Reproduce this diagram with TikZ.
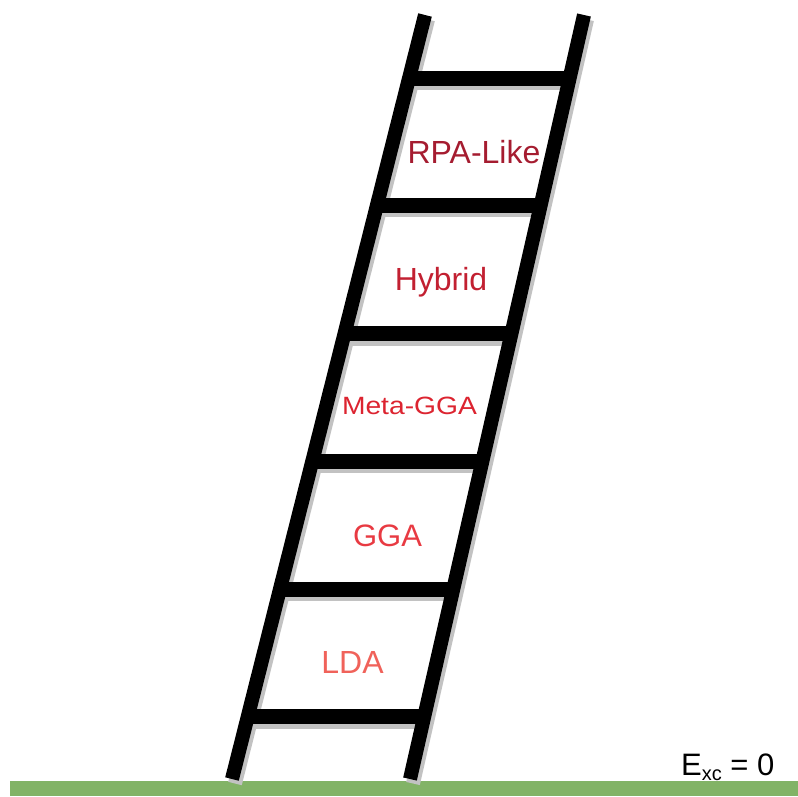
\documentclass[tikz,border=0pt]{standalone}
\usepackage{fontspec}
\setmainfont{Liberation Sans}
\usetikzlibrary{calc}
\definecolor{groundgreen}{HTML}{82B366}
\definecolor{railshade}{HTML}{C2C2C2}
\definecolor{lvlfive}{HTML}{A51C30}
\definecolor{lvlfour}{HTML}{C22031}
\definecolor{lvlthree}{HTML}{DC2430}
\definecolor{lvltwo}{HTML}{E83A42}
\definecolor{lvlone}{HTML}{F0625A}
\begin{document}
\begin{tikzpicture}[x=1pt,y=-1pt,
  rail/.style={line width=14pt},
  rungbar/.style={line width=15pt},
  lvl/.style={anchor=base, inner sep=0pt, font=\fontsize{32}{38}\selectfont}]
\useasboundingbox (0,0) rectangle (798,796);

% ground
\fill[groundgreen] (10,781) rectangle (798,796);

% rail end points
\coordinate (lt) at (425,15);
\coordinate (lb) at (232,779);
\coordinate (rt) at (584,15);
\coordinate (rb) at (410,779);

% rung end points along the rails
\foreach \n/\t in {1/0.0831,2/0.2487,3/0.4175,4/0.5838,5/0.7519,6/0.9188}{
  \coordinate (l\n) at ($(lt)!\t!(lb)$);
  \coordinate (r\n) at ($(rt)!\t!(rb)$);
}

% drop shadow, offset down and to the right
\draw[rail, color=railshade] ($(lt)+(3,4.5)$) -- ($(lb)+(3,4.5)$);
\draw[rail, color=railshade] ($(rt)+(3,4.5)$) -- ($(rb)+(3,4.5)$);
\foreach \n in {1,...,6}{
  \draw[rungbar, color=railshade] ($(l\n)+(3,4.5)$) -- ($(r\n)+(3,4.5)$);
}

% ladder
\draw[rail] (lt) -- (lb);
\draw[rail] (rt) -- (rb);
\foreach \n in {1,...,6}{ \draw[rungbar] (l\n) -- (r\n); }

% rung labels
\node[lvl, text=lvlfive] (rpa) at (474,163) {RPA-Like};
\node[lvl, text=lvlfour] (hyb) at (441,290) {Hybrid};
\node[lvl, text=lvlthree, font=\fontsize{25}{30}\selectfont, xscale=1.13] (meta) at (409.5,414) {Meta-GGA};
\node[lvl, text=lvltwo, font=\fontsize{31}{37}\selectfont] (gga) at (387.5,546) {GGA};
\node[lvl, text=lvlone] (lda) at (352.5,673) {LDA};

% ground label
\node[anchor=base west, inner sep=0pt, font=\fontsize{31}{37}\selectfont] (exc) at (681,775)
  {E\raisebox{-5pt}{\fontsize{20}{24}\selectfont xc} = 0};
\end{tikzpicture}
\end{document}
